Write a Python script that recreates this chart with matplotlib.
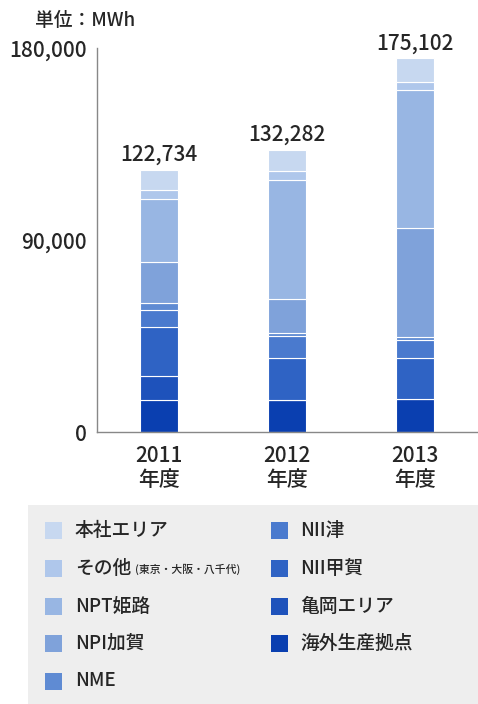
import matplotlib.pyplot as plt
from matplotlib.patches import Rectangle
import numpy as np

plt.rcParams['font.family'] = ['Noto Sans CJK JP', 'DejaVu Sans']
plt.rcParams['font.weight'] = 'medium'

# data (MWh), bottom -> top of the stack
years = ['2011\n年度', '2012\n年度', '2013\n年度']
totals = [122734, 132282, 175102]
names = ['海外生産拠点', '亀岡エリア', 'NII甲賀', 'NII津', 'NME',
         'NPI加賀', 'NPT姫路', 'その他', '本社エリア']
kaigai = [15300, 15000, 15700]
kameoka = [11000, 0, 0]
nii_koka = [23000, 19700, 18900]
nii_tsu = [7800, 10200, 8600]
nme = [3500, 1600, 1600]
npi_kaga = [19200, 16000, 51000]
npt_himeji = [29300, 55500, 64300]
sonota = [4600, 4300, 4000]
honsha = [9034, 9982, 11002]
series = [kaigai, kameoka, nii_koka, nii_tsu, nme, npi_kaga, npt_himeji, sonota, honsha]
colors = ['#0a3fb0', '#1e52bb', '#2f63c4', '#4a7ace', '#5f8bd3',
          '#7fa2da', '#98b6e3', '#afc7eb', '#c7d8f0']

W, H = 478, 704
fig = plt.figure(figsize=(W / 100, H / 100), dpi=100)
ax = fig.add_axes([96.7 / W, (H - 432.3) / H, (W - 96.7) / W, (432.3 - 48) / H])

txt = '#262626'
x = np.arange(len(years))
bottom = np.zeros(len(years))
for vals, c in zip(series, colors):
    ax.bar(x, vals, 0.297, bottom=bottom, color=c, edgecolor='white', linewidth=0.8)
    bottom += np.array(vals)

for xi, t in zip(x, totals):
    ax.annotate(f'{t:,}', (xi, t), xytext=(0, 3), textcoords='offset points',
                ha='center', va='bottom', fontsize=15, color=txt)

ax.set_xlim(-0.487, 2.49)
ax.set_ylim(0, 180000)
ax.set_yticks([0, 90000, 180000])
ax.set_yticklabels([f'{v:,}' for v in [0, 90000, 180000]], fontsize=15, color=txt)
ax.set_xticks(x)
ax.set_xticklabels(years, fontsize=15, color=txt, linespacing=1.15)
ax.tick_params(axis='y', length=0, pad=7)
ax.tick_params(axis='x', length=0, pad=9)
for s in ['top', 'right']:
    ax.spines[s].set_visible(False)
for s in ['left', 'bottom']:
    ax.spines[s].set_color('#888888')
    ax.spines[s].set_linewidth(1.0)

fig.text(35 / W, 1 - 21 / H, '単位：MWh', fontsize=13.5, color=txt, va='center', ha='left')

# legend panel
fig.patches.append(Rectangle((28 / W, 0), (W - 28) / W, (H - 505) / H,
                             transform=fig.transFigure, facecolor='#eeeeee',
                             edgecolor='none', zorder=0))
legend_order = names[::-1]
legend_colors = colors[::-1]
row_y = [530, 568, 606, 643, 681]
for i, (n, c) in enumerate(zip(legend_order, legend_colors)):
    col, row = divmod(i, 5)
    sx = 45 if col == 0 else 271
    tx = 75 if col == 0 else 300
    cy = row_y[row]
    fig.patches.append(Rectangle((sx / W, 1 - (cy + 8.5) / H), 17 / W, 17 / H,
                                 transform=fig.transFigure, facecolor=c,
                                 edgecolor='none', zorder=1))
    fig.text(tx / W, 1 - cy / H, n, fontsize=13.5, color=txt, va='center', ha='left')
    if n == 'その他':
        fig.text(135 / W, 1 - (cy + 1) / H, '(東京・大阪・八千代)', fontsize=7.8,
                 color=txt, va='center', ha='left')

fig.savefig('out.png', dpi=100)
